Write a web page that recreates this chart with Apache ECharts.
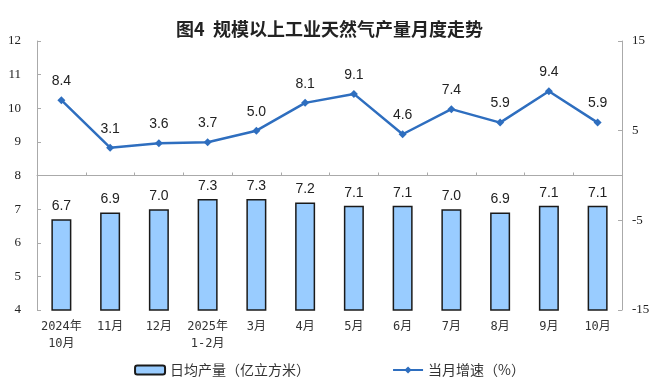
<!DOCTYPE html>
<html><head><meta charset="utf-8">
<script src="https://cdn.jsdelivr.net/npm/echarts@6/dist/echarts.min.js"></script>
<style>html,body{margin:0;padding:0;background:#fff}#c{width:659px;height:385px}</style>
</head><body><div id="c"></div>
<script>
var categories = ['2024年\n10月','11月','12月','2025年\n1-2月','3月','4月','5月','6月','7月','8月','9月','10月'];
var dailyOutput = [6.7,6.9,7.0,7.3,7.3,7.2,7.1,7.1,7.0,6.9,7.1,7.1];
var monthGrowth = [8.4,3.1,3.6,3.7,5.0,8.1,9.1,4.6,7.4,5.9,9.4,5.9];
var barName = '日均产量（亿立方米）';
var lineName = '当月增速（%）';
var titleText = '图4  规模以上工业天然气产量月度走势';

var chart = echarts.init(document.getElementById('c'), null, {renderer:'canvas'});
chart.setOption({
  animation:false,
  backgroundColor:'#fff',
  title:{text:titleText,left:'center',top:15,textStyle:{fontFamily:'Noto Sans CJK SC',fontSize:18,fontWeight:'bold',color:'#222'}},
  grid:{left:37,right:37,top:41,bottom:75},
  legend:{bottom:3,itemGap:82,itemWidth:30,itemHeight:9,
    textStyle:{fontFamily:'Noto Sans CJK SC',fontSize:14,color:'#333'},
    data:[{name:barName},{name:lineName}]},
  xAxis:{type:'category',data:categories,
    axisLine:{lineStyle:{color:'#aaa'}},
    axisTick:{show:true,inside:true,length:3,lineStyle:{color:'#aaa'}},
    axisLabel:{fontFamily:'DejaVu Sans Mono, Noto Sans CJK SC',fontSize:12,color:'#333',lineHeight:17,margin:8,interval:0}},
  yAxis:[
    {type:'value',min:4,max:12,interval:1,position:'left',
     axisLine:{show:true,lineStyle:{color:'#aaa'}},
     axisTick:{show:true,inside:true,length:4,lineStyle:{color:'#aaa'}},
     splitLine:{show:false},
     axisLabel:{fontFamily:'Liberation Serif',fontSize:13,color:'#222',margin:16}},
    {type:'value',min:-15,max:15,interval:10,position:'right',
     axisLine:{show:true,lineStyle:{color:'#aaa'}},
     axisTick:{show:true,inside:true,length:4,lineStyle:{color:'#aaa'}},
     splitLine:{show:false},
     axisLabel:{fontFamily:'Liberation Serif',fontSize:13,color:'#222',margin:10}}
  ],
  series:[
    {name:barName,type:'bar',yAxisIndex:0,data:dailyOutput,barWidth:20,
     itemStyle:{color:'#99CCFF',borderColor:'#1a1a1a',borderWidth:1.5},
     label:{show:true,position:'top',distance:6,formatter:function(p){return p.value.toFixed(1);},
       fontFamily:'Liberation Sans',fontSize:14,color:'#222'}},
    {name:lineName,type:'line',yAxisIndex:1,data:monthGrowth,
     symbol:'diamond',symbolSize:8,
     lineStyle:{color:'#2E6EBF',width:2.5},
     itemStyle:{color:'#2E6EBF'},
     label:{show:true,position:'top',distance:8,formatter:function(p){return p.value.toFixed(1);},
       fontFamily:'Liberation Sans',fontSize:14,color:'#222'}}
  ]
});
</script></body></html>
